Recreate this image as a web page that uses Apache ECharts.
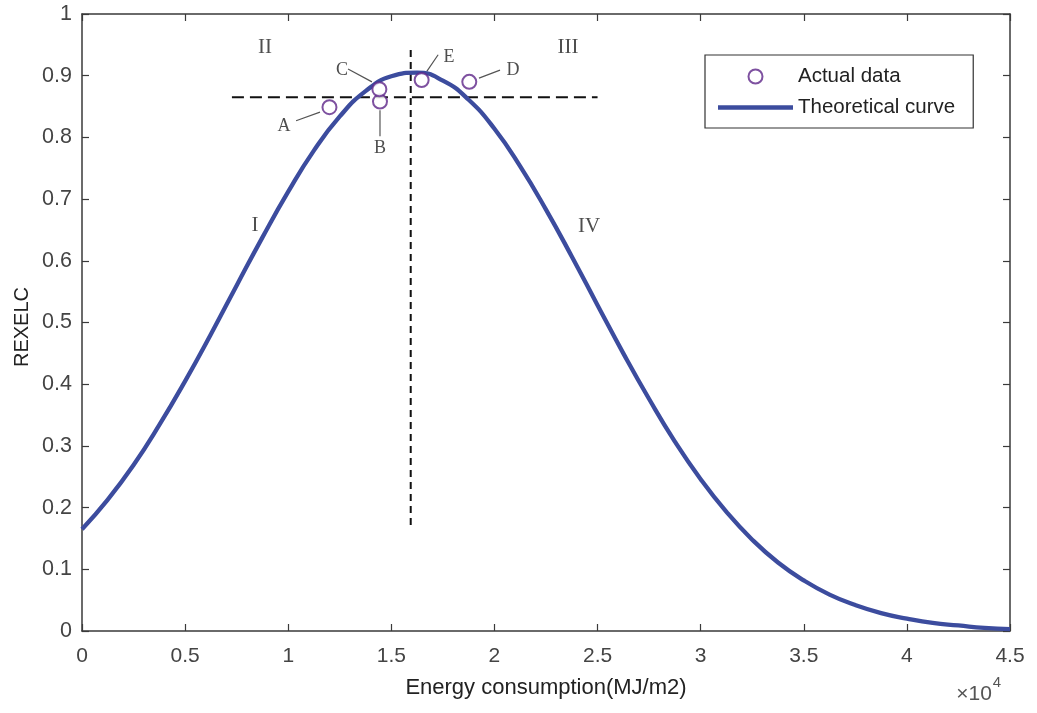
<!DOCTYPE html>
<html>
<head>
<meta charset="utf-8">
<script src="https://cdn.jsdelivr.net/npm/echarts@6/dist/echarts.min.js"></script>
<style>
html,body{margin:0;padding:0;background:#fff;}
#chart{width:1037px;height:713px;}
</style>
</head>
<body>
<div id="chart"></div>
<script>
// ---- data (x in units of 10^4 MJ/m2) ----
const curveX = [0, 0.125, 0.25, 0.375, 0.5, 0.625, 0.75, 0.875, 1.0, 1.125, 1.25, 1.375, 1.5, 1.625,
  1.75, 1.875, 2.0, 2.125, 2.25, 2.375, 2.5, 2.625, 2.75, 2.875, 3.0, 3.125, 3.25, 3.375, 3.5, 3.625,
  3.75, 3.875, 4.0, 4.125, 4.25, 4.375, 4.5];
const curveY = [0.165, 0.213, 0.269, 0.334, 0.405, 0.481, 0.560, 0.638, 0.712, 0.779, 0.834, 0.875, 0.899, 0.905,
  0.892, 0.861, 0.814, 0.753, 0.683, 0.607, 0.528, 0.450, 0.376, 0.307, 0.246, 0.193, 0.148, 0.111, 0.082, 0.059,
  0.042, 0.029, 0.020, 0.013, 0.009, 0.005, 0.003];

const pointNames = ['A', 'B', 'C', 'E', 'D'];
const pointX = [1.20, 1.445, 1.442, 1.647, 1.878];
const pointY = [0.849, 0.858, 0.878, 0.893, 0.890];

const hLineX = [0.727, 2.50];
const hLineY = [0.865, 0.865];
const vLineX = [1.594, 1.594];
const vLineY = [0.172, 0.945];

const regionNames = ['II', 'III', 'I', 'IV'];
const regionX = [0.887, 2.357, 0.839, 2.459];
const regionY = [0.946, 0.945, 0.658, 0.655];

const letterNames = ['A', 'B', 'C', 'D', 'E'];
const letterX = [0.98, 1.445, 1.261, 2.09, 1.78];
const letterY = [0.818, 0.783, 0.909, 0.909, 0.930];

const leaderX = [[1.038, 1.154], [1.445, 1.445], [1.290, 1.406], [1.925, 2.027], [1.672, 1.727]];
const leaderY = [[0.827, 0.841], [0.844, 0.802], [0.911, 0.890], [0.896, 0.909], [0.907, 0.934]];

const xTicks = [0, 0.5, 1, 1.5, 2, 2.5, 3, 3.5, 4, 4.5];
const yTicks = [0, 0.1, 0.2, 0.3, 0.4, 0.5, 0.6, 0.7, 0.8, 0.9, 1];

// ---- build ----
const SANS = '"Liberation Sans", Arial, sans-serif';
const SERIF = '"Liberation Serif", "Times New Roman", serif';
const axisCol = '#3a3a3a';

const curveData = curveX.map((x, i) => [x, curveY[i]]);
const pointData = pointX.map((x, i) => ({ name: pointNames[i], value: [x, pointY[i]] }));
const leaderData = [];
leaderX.forEach((xs, i) => {
  leaderData.push([xs[0], leaderY[i][0]]);
  leaderData.push([xs[1], leaderY[i][1]]);
  leaderData.push('-');
});

const baseAxis = {
  min: 0, splitLine: { show: false },
  axisLine: { show: true, onZero: false, lineStyle: { color: axisCol, width: 1.5 } },
  axisTick: { show: true, inside: true, length: 7, lineStyle: { color: axisCol, width: 1.2 } }
};

const option = {
  animation: false,
  backgroundColor: '#fff',
  grid: { left: 82, right: 27, top: 14, bottom: 82, containLabel: false },
  xAxis: [
    Object.assign({}, baseAxis, {
      type: 'value', position: 'bottom', max: 4.5, interval: 0.5,
      axisLabel: { color: '#444', fontFamily: SANS, fontSize: 21, margin: 15,
        formatter: v => String(+v.toFixed(2)) },
      name: 'Energy consumption(MJ/m2)', nameLocation: 'middle', nameGap: 46,
      nameTextStyle: { color: '#222', fontFamily: SANS, fontSize: 22 }
    }),
    Object.assign({}, baseAxis, {
      type: 'value', position: 'top', max: 4.5, interval: 0.5, axisLabel: { show: false }
    })
  ],
  yAxis: [
    Object.assign({}, baseAxis, {
      type: 'value', position: 'left', max: 1, interval: 0.1,
      axisLabel: { color: '#444', fontFamily: SANS, fontSize: 21.5, margin: 10,
        formatter: v => String(+v.toFixed(2)) }
    }),
    Object.assign({}, baseAxis, {
      type: 'value', position: 'right', max: 1, interval: 0.1, axisLabel: { show: false }
    })
  ],
  legend: {
    left: 705, top: 55, orient: 'vertical',
    data: [
      { name: 'Actual data' },
      { name: 'Theoretical curve', icon: 'path://M0,0L300,0L300,18L0,18Z' }
    ],
    itemWidth: 75, itemHeight: 14, itemGap: 10,
    padding: [11, 18, 10, 13],
    borderColor: '#333', borderWidth: 1.2, backgroundColor: '#fff',
    textStyle: { fontFamily: SANS, fontSize: 20.5, color: '#222' },
    selectedMode: false
  },
  series: [
    {
      name: 'Theoretical curve', type: 'line', data: curveData, smooth: true,
      showSymbol: false, symbol: 'none', z: 3,
      lineStyle: { color: '#3c4c9e', width: 4.3 }, itemStyle: { color: '#3c4c9e' }
    },
    {
      name: 'hline', type: 'line', data: hLineX.map((x, i) => [x, hLineY[i]]),
      symbol: 'none', z: 2, lineStyle: { color: '#111', width: 2, type: [12, 6] }
    },
    {
      name: 'vline', type: 'line', data: vLineX.map((x, i) => [x, vLineY[i]]),
      symbol: 'none', z: 2, lineStyle: { color: '#111', width: 2, type: [7, 5] }
    },
    {
      name: 'leaders', type: 'line', data: leaderData, symbol: 'none', connectNulls: false,
      z: 2, lineStyle: { color: '#555', width: 1.2 }
    },
    {
      name: 'Actual data', type: 'scatter', data: pointData, symbol: 'emptyCircle', symbolSize: 14,
      z: 5, itemStyle: { color: '#5e2688', borderWidth: 2.3 }
    },
    {
      name: 'regions', type: 'scatter', symbolSize: 0, silent: true,
      data: regionNames.map((n, i) => ({ name: n, value: [regionX[i], regionY[i]] })),
      label: { show: true, position: 'inside', formatter: p => p.name,
        fontFamily: SERIF, fontSize: 21, color: '#222' }
    },
    {
      name: 'letters', type: 'scatter', symbolSize: 0, silent: true,
      data: letterNames.map((n, i) => ({ name: n, value: [letterX[i], letterY[i]] })),
      label: { show: true, position: 'inside', formatter: p => p.name,
        fontFamily: SERIF, fontSize: 18, color: '#222' }
    }
  ],
  graphic: [
    { type: 'text', x: 22, y: 327, rotation: Math.PI / 2,
      style: { text: 'REXELC', fontFamily: SANS, fontSize: 20, fill: '#222', align: 'center', verticalAlign: 'middle' } },
    { type: 'text', x: 974, y: 694,
      style: { text: '×10', fontFamily: SANS, fontSize: 21, fill: '#555', align: 'center', verticalAlign: 'middle' } },
    { type: 'text', x: 997, y: 683,
      style: { text: '4', fontFamily: SANS, fontSize: 15, fill: '#555', align: 'center', verticalAlign: 'middle' } }
  ]
};

const chart = echarts.init(document.getElementById('chart'), null, { renderer: 'canvas' });
chart.setOption(option);
</script>
</body>
</html>
